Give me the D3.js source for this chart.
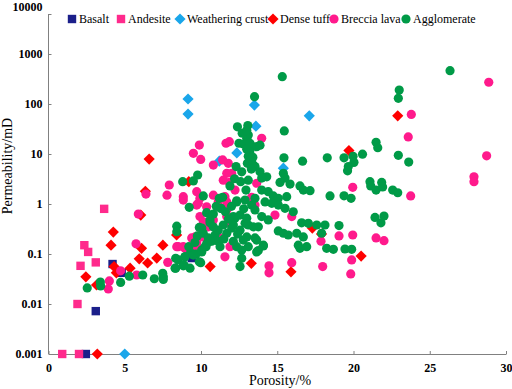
<!DOCTYPE html>
<html>
<head>
<meta charset="utf-8">
<script src="https://cdn.jsdelivr.net/npm/d3@7"></script>
<style>
body { margin: 0; background: #fff; }
</style>
</head>
<body>
<script>
// data: [porosity %, permeability mD]
var basalt = [[2.45, 0.001], [3.1, 0.0072], [4.2, 0.063], [4.8, 0.042], [9.4, 0.083]];
var andesite = [[0.9, 0.001], [2.0, 0.001], [1.9, 0.01], [2.1, 0.058], [2.35, 0.15], [2.6, 0.11], [3.1, 0.068], [3.65, 0.8]];
var weatheringCrust = [[5.0, 0.001], [9.15, 126], [9.15, 63], [13.5, 95], [13.6, 36], [17.1, 58], [11.2, 7.2], [12.35, 10.5], [15.4, 5.2]];
var denseTuff = [[3.2, 0.001], [2.45, 0.035], [3.15, 0.024], [4.25, 0.275], [4.1, 0.15], [4.3, 0.056], [4.45, 0.042],
    [5.35, 0.052], [5.95, 0.08], [6.05, 0.6], [6.35, 1.8], [6.6, 7.9], [6.1, 0.13], [6.5, 0.066], [7.1, 0.083],
    [7.5, 0.15], [8.4, 0.24], [9.2, 2.8], [10.6, 0.056], [13.3, 0.065], [15.9, 0.044], [17.3, 0.33], [17.9, 0.25],
    [19.7, 11.7], [20.5, 0.091], [22.9, 58]];
var brecciaLava = [[6.39, 1.58], [7.92, 2.4], [7.77, 1.5], [5.89, 0.63], [5.74, 0.16], [7.82, 0.068], [4.73, 0.046],
    [3.99, 0.029], [3.92, 0.02], [5.78, 0.038], [8.41, 0.14], [9.15, 0.12], [9.72, 0.14], [11.57, 0.088], [11.9, 0.14],
    [9.89, 15.1], [9.5, 10.3], [9.98, 7.8], [10.81, 6.0], [11.64, 16.4], [11.86, 17.6], [11.79, 6.5], [12.01, 4.1],
    [11.69, 4.1], [11.46, 3.0], [11.86, 2.7], [8.84, 1.4], [8.84, 1.2], [9.72, 1.76], [9.93, 1.3], [10.81, 1.5],
    [11.57, 1.4], [12.23, 1.9], [9.72, 0.95], [11.69, 0.76], [11.69, 1.1], [9.61, 0.22], [9.72, 0.17], [8.51, 0.14],
    [8.95, 0.13], [10.48, 0.35], [10.15, 0.44], [11.42, 7.6], [9.82, 1.03], [10.37, 0.88], [11.13, 1.1], [10.81, 0.48],
    [11.69, 0.56], [11.9, 0.41], [9.39, 0.21], [10.11, 0.22], [11.25, 0.21], [8.84, 0.14], [9.93, 0.56],
    [13.98, 20.6], [13.65, 2.6], [13.32, 1.36], [23.59, 22], [28.73, 9.2], [27.9, 3.5], [27.9, 2.8], [19.95, 2.16],
    [23.75, 1.45], [19.05, 0.23], [19.95, 0.24], [21.48, 0.21], [22.0, 0.185], [15.95, 0.56], [14.85, 0.6],
    [17.87, 0.18], [13.54, 0.95], [14.46, 0.058], [14.46, 0.042], [15.95, 0.067], [17.98, 0.056], [28.87, 272],
    [23.79, 62], [19.88, 0.076], [19.82, 0.04]];
var agglomerate = [[26.33, 463], [15.33, 352], [13.51, 140], [23.0, 190], [22.94, 130],
    [12.39, 35], [13.07, 37], [13.0, 20.6], [12.49, 16.4], [12.79, 15.8], [13.1, 24], [13.32, 14.5], [13.21, 16.4],
    [13.65, 14], [13.87, 15], [15.46, 29], [21.48, 17.1], [21.59, 13.4],
    [15.44, 8.4], [16.66, 7.2], [18.28, 8.4], [19.38, 8.4], [19.97, 9.0], [20.59, 9.9], [22.94, 9.4], [23.62, 6.9],
    [20.03, 6.8], [19.66, 5.6], [19.61, 4.6],
    [12.3, 5.6], [12.67, 4.4], [13.04, 6.5], [13.43, 6.0], [13.32, 7.6], [13.54, 5.6], [13.87, 4.4], [14.31, 3.5],
    [13.98, 3.3], [13.2, 11], [13.1, 9], [13.4, 8.6], [13.0, 12.5], [13.3, 5],
    [9.78, 3.8], [9.5, 2.9], [8.8, 2.8], [13.1, 3.0],
    [15.4, 4.1], [15.51, 3.3], [15.18, 2.7], [15.84, 2.5], [16.49, 2.3], [16.71, 1.9], [17.15, 1.85], [18.46, 1.45],
    [19.38, 1.46], [19.84, 1.3], [21.08, 2.8], [21.13, 2.3], [21.48, 1.9], [21.85, 2.7], [21.91, 2.2], [22.57, 1.9],
    [22.9, 1.68], [12.95, 1.9], [13.98, 1.9], [14.41, 1.76], [14.74, 1.45], [15.07, 1.3], [15.62, 1.4], [13.54, 1.3],
    [12.89, 1.2], [10.15, 1.45], [11.2, 1.3], [12.34, 1.16], [11.42, 1.36],
    [13.32, 0.95], [14.2, 1.1], [14.64, 1.03], [15.07, 0.95], [15.51, 0.82], [16.05, 0.7],
    [13.98, 0.56], [14.41, 0.48], [13.76, 0.35], [13.1, 0.38], [13.0, 0.22], [13.54, 0.21], [14.09, 0.15], [13.76, 0.117],
    [15.07, 0.29], [15.4, 0.26], [15.72, 0.24], [16.28, 0.26], [16.6, 0.42], [17.04, 0.41], [17.59, 0.38], [18.13, 0.38],
    [17.91, 0.26], [16.71, 0.22], [16.38, 0.15], [16.93, 0.14], [16.49, 0.13], [18.24, 0.13], [18.68, 0.124],
    [19.44, 0.126], [19.88, 0.124], [19.05, 0.37], [21.41, 0.54], [22.0, 0.575], [21.8, 0.42],
    [13.65, 0.11], [14.09, 0.145], [13.65, 0.19],
    [9.23, 0.86], [8.41, 0.36], [8.41, 0.28], [10.37, 0.67], [10.81, 0.63], [9.89, 0.34], [9.76, 0.23], [10.15, 0.26],
    [10.48, 0.21], [10.7, 0.18], [10.33, 0.14], [10.05, 0.11], [9.67, 0.099], [9.32, 0.106], [8.95, 0.088], [8.51, 0.076],
    [8.3, 0.052], [8.84, 0.058], [9.28, 0.052], [7.53, 0.035], [9.98, 0.067], [10.92, 0.24], [11.13, 0.18], [11.46, 0.38],
    [11.69, 0.26], [12.01, 0.33], [12.23, 0.52], [12.56, 0.6], [12.89, 0.41], [12.77, 0.19], [12.67, 0.12], [12.67, 0.082],
    [12.56, 0.056], [12.34, 1.1], [11.31, 0.82], [10.59, 0.48], [12.34, 0.14], [13.1, 0.14],
    [11.29, 0.82], [12.12, 0.56], [13.0, 0.52], [13.54, 0.76], [10.59, 0.42], [10.05, 0.33], [11.13, 0.3], [12.12, 0.38],
    [12.56, 0.3], [13.43, 0.35], [10.59, 0.18], [10.26, 0.14], [11.25, 0.14], [12.12, 0.18],
    [11.0, 0.9], [11.6, 0.7], [12.0, 0.9], [12.8, 0.8], [11.8, 0.5], [12.4, 0.25], [11.5, 0.2], [10.8, 0.35],
    [9.6, 0.17], [9.2, 0.14], [11.9, 2.3], [12.6, 2.8], [12.2, 3.2], [12.7, 26], [13.0, 30],
    [2.54, 0.021], [3.4, 0.0275], [3.42, 0.023], [4.73, 0.027], [5.3, 0.036], [6.18, 0.038], [6.94, 0.032],
    [7.49, 0.041], [7.53, 0.031], [8.34, 0.052], [8.89, 0.06], [8.34, 0.082], [8.95, 0.088], [9.5, 0.095],
    [9.89, 0.07], [10.05, 0.12], [10.37, 0.16]];

var xTicks = [0, 5, 10, 15, 20, 25, 30];
var yTicks = [0.001, 0.01, 0.1, 1, 10, 100, 1000, 10000];

var series = [
    { name: "Basalt", data: basalt, shape: "square", color: "#1b1f8a" },
    { name: "Andesite", data: andesite, shape: "square", color: "#ff2a8c" },
    { name: "Weathering crust", data: weatheringCrust, shape: "diamond", color: "#1aa6ea" },
    { name: "Dense tuff", data: denseTuff, shape: "diamond", color: "#ff0000" },
    { name: "Breccia lava", data: brecciaLava, shape: "circle", color: "#ff1a8c" },
    { name: "Agglomerate", data: agglomerate, shape: "circle", color: "#009a47" }
];

var font = "'Liberation Serif', 'Times New Roman', serif";

// canvas
var svg = d3.select("body")
    .append("svg")
    .attr("width", 512)
    .attr("height", 389);

// scales
var xScale = d3.scaleLinear()
    .domain([0, 30])
    .range([48.5, 506]);
var yScale = d3.scaleLog()
    .domain([0.001, 10000])
    .range([354, 4]);

// axes
var xAxis = d3.axisBottom(xScale)
    .tickValues(xTicks)
    .tickSizeInner(-3)
    .tickSizeOuter(0)
    .tickPadding(9)
    .tickFormat(d3.format("d"));
var yAxis = d3.axisLeft(yScale)
    .tickValues(yTicks)
    .tickSizeInner(-3)
    .tickSizeOuter(0)
    .tickPadding(6)
    .tickFormat(function (d) { return d >= 1 ? d3.format("d")(d) : d3.format("")(d); });

var gx = svg.append("g")
    .attr("transform", "translate(0,354)")
    .call(xAxis);
var gy = svg.append("g")
    .attr("transform", "translate(48.5,0)")
    .call(yAxis);

[gx, gy].forEach(function (g) {
    g.selectAll("path, line").attr("stroke", "#808080").attr("stroke-width", 1);
    g.selectAll("text")
        .attr("font-family", font)
        .attr("font-size", "12px")
        .attr("font-weight", "bold")
        .attr("fill", "#000");
});

// top of the y axis stops a little below the 10000 label, as in the original
gy.select(".domain").attr("d", "M0,14V354");
gy.selectAll(".tick")
    .filter(function (d) { return d === 10000; })
    .each(function () {
        d3.select(this).select("line").attr("transform", "translate(0,10)");
        d3.select(this).select("text").attr("dy", "0.5em");
    });

// axis titles
svg.append("text")
    .attr("x", 280)
    .attr("y", 385)
    .attr("text-anchor", "middle")
    .attr("font-family", font)
    .attr("font-size", "14px")
    .text("Porosity/%");
svg.append("text")
    .attr("transform", "translate(12,166) rotate(-90)")
    .attr("text-anchor", "middle")
    .attr("font-family", font)
    .attr("font-size", "14px")
    .text("Permeability/mD");

// marker drawing
function addMarker(g, shape, color, x, y) {
    if (shape === "circle") {
        g.append("circle")
            .attr("cx", x).attr("cy", y).attr("r", 4.6)
            .attr("fill", color);
    } else if (shape === "square") {
        g.append("rect")
            .attr("x", x - 4.2).attr("y", y - 4.2)
            .attr("width", 8.4).attr("height", 8.4)
            .attr("fill", color);
    } else {
        g.append("path")
            .attr("d", "M" + x + "," + (y - 5.6) + "L" + (x + 5.6) + "," + y + "L" + x + "," + (y + 5.6) + "L" + (x - 5.6) + "," + y + "Z")
            .attr("fill", color);
    }
}

// scatter points
series.forEach(function (s) {
    var g = svg.append("g").attr("class", "series");
    s.data.forEach(function (d) {
        addMarker(g, s.shape, s.color, xScale(d[0]), yScale(d[1]));
    });
});

// legend
var legendX = [72, 121, 180, 273, 334, 406];
var legend = svg.append("g");
series.forEach(function (s, i) {
    addMarker(legend, s.shape, s.color, legendX[i], 19);
    legend.append("text")
        .attr("x", legendX[i] + 7)
        .attr("y", 23)
        .attr("font-family", font)
        .attr("font-size", "12px")
        .attr("fill", "#000")
        .text(s.name);
});
</script>
</body>
</html>
